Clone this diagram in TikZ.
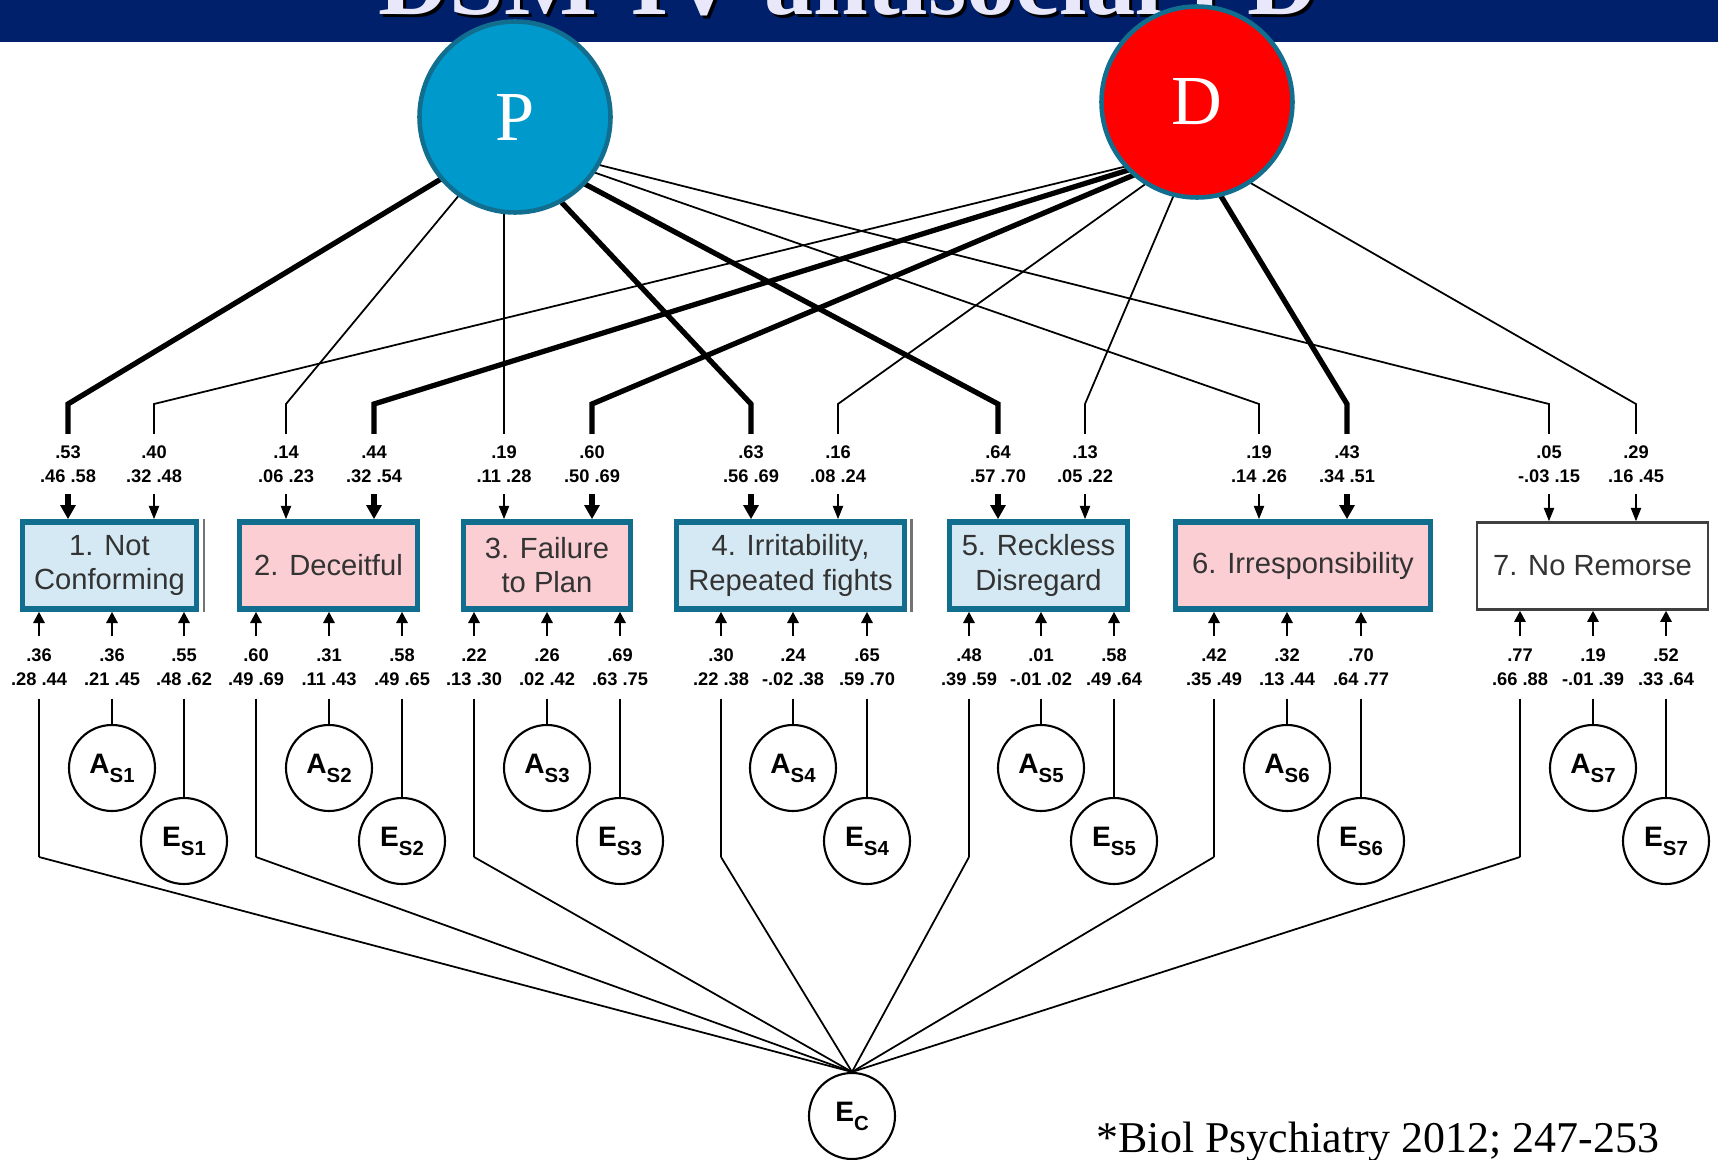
\documentclass[tikz,border=0pt]{standalone}
\usepackage{fontspec}
\setmainfont{Liberation Sans}
\newfontfamily\slidefont{Liberation Serif}
\usetikzlibrary{arrows.meta}

\definecolor{banner}{RGB}{0,32,108}
\definecolor{lavender}{RGB}{232,232,250}
\definecolor{edgeteal}{RGB}{18,110,142}
\definecolor{pblue}{RGB}{0,153,204}
\definecolor{dred}{RGB}{255,0,0}
\definecolor{boxblue}{RGB}{212,233,243}
\definecolor{boxpink}{RGB}{250,206,210}

\newcommand\sub[1]{\raisebox{-0.6ex}{\fontsize{5.8}{6}\selectfont #1}}

\begin{document}
\begin{tikzpicture}[x=0.1mm, y=-0.1mm,
    every node/.style={font=\small},
    headline/.style={anchor=base west, inner sep=0pt, font=\slidefont\bfseries\fontsize{28}{30}\selectfont},
    est/.style={align=center, inner sep=0pt, font=\fontsize{5.2}{6.8}\selectfont\bfseries},
    trait/.style={draw=edgeteal, line width=1.6pt, minimum height=8.7mm, align=center, text=black!80, font=\fontsize{8.3}{9.7}\selectfont},
    bluebox/.style={trait, fill=boxblue},
    pinkbox/.style={trait, fill=boxpink},
    plainbox/.style={trait, draw=black!75, line width=0.7pt, fill=white},
    latent/.style={circle, draw=edgeteal, line width=1.3pt, minimum size=19.1mm, inner sep=0pt, text=white, font=\slidefont\fontsize{20}{24}\selectfont},
    spec/.style={circle, draw, line width=0.6pt, minimum size=8.6mm, inner sep=0pt, font=\fontsize{8}{9}\selectfont\bfseries},
    heavy/.style={line width=1.5pt, >={Triangle[length=4pt,width=4.2pt]}},
    light/.style={line width=0.5pt, >={Triangle[length=3.8pt,width=2.9pt]}},
    uparr/.style={line width=0.7pt, ->, >={Triangle[length=3.2pt,width=3.2pt]}}]
    \useasboundingbox (0,0) rectangle (1718,1160);
    \clip (0,0) rectangle (1718,1160);
    \fill[banner] (0,0) rectangle (1718,42);
    \node[headline, text=black] (shadow) at (381,18) {DSM-IV antisocial PD};
    \node[headline, text=lavender] (title) at (378,15) {DSM-IV antisocial PD};
    \node[anchor=base west, inner sep=0pt, font=\slidefont\fontsize{12.5}{14}\selectfont] (cite) at (1096,1152) {*Biol Psychiatry 2012; 247-253};

    \node[bluebox, minimum width=16.6mm] (b1) at (109.5,565.5) {1. Not\\Conforming};
    \node[pinkbox, minimum width=17.8mm] (b2) at (328.5,565.5) {2. Deceitful};
    \node[pinkbox, minimum width=16.7mm] (b3) at (547,565.5) {3. Failure\\to Plan};
    \node[bluebox, minimum width=22.4mm] (b4) at (790.5,565.5) {4. Irritability,\\Repeated fights};
    \node[bluebox, minimum width=17.8mm] (b5) at (1038.5,565.5) {5. Reckless\\Disregard};
    \node[pinkbox, minimum width=25.5mm] (b6) at (1303,565.5) {6. Irresponsibility};
    \node[plainbox, minimum width=23.1mm] (b7) at (1592.5,566) {7. No Remorse};
    \draw[black!55, line width=0.8pt] ([xshift=0.45mm]b1.north east) -- ([xshift=0.45mm]b1.south east);
    \draw[black!55, line width=0.8pt] ([xshift=0.45mm]b4.north east) -- ([xshift=0.45mm]b4.south east);

    \node[spec] (EC) at (852,1116) {E\sub{C}};
    \foreach \b/\xa/\xm/\xe in {1/39/112/184, 2/256/329/402, 3/474/547/620, 4/721/793/867,
        5/969/1041/1114, 6/1214/1287/1361, 7/1520/1593/1666}
    {
        \node[spec] (A\b) at (\xm,768) {A\sub{S\b}};
        \node[spec] (E\b) at (\xe,841) {E\sub{S\b}};
        \coordinate (C\b) at (\xa,857);
        \draw[light] (C\b) -- (EC.north);
    }
    \foreach \b/\k/\est/\ci in {1/C/.36/.28 .44, 1/A/.36/.21 .45, 1/E/.55/.48 .62,
        2/C/.60/.49 .69, 2/A/.31/.11 .43, 2/E/.58/.49 .65,
        3/C/.22/.13 .30, 3/A/.26/.02 .42, 3/E/.69/.63 .75,
        4/C/.30/.22 .38, 4/A/.24/-.02 .38, 4/E/.65/.59 .70,
        5/C/.48/.39 .59, 5/A/.01/-.01 .02, 5/E/.58/.49 .64,
        6/C/.42/.35 .49, 6/A/.32/.13 .44, 6/E/.70/.64 .77,
        7/C/.77/.66 .88, 7/A/.19/-.01 .39, 7/E/.52/.33 .64}
    {
        \node[est, minimum height=6.1mm] (u\k\b) at (\k\b |- 0,667.5) {\est\\\ci};
        \draw[uparr] (u\k\b.north) -- (u\k\b.north |- b\b.south);
        \draw[light] (u\k\b.south) -- (\k\b);
    }

    \coordinate (hubP) at (504,141);
    \coordinate (hubD) at (1193,150);
    \foreach \b/\x/\src/\wt/\est/\ci in {1/68/P/heavy/.53/.46 .58, 1/154/D/light/.40/.32 .48,
        2/286/P/light/.14/.06 .23, 2/374/D/heavy/.44/.32 .54,
        3/504/P/light/.19/.11 .28, 3/592/D/heavy/.60/.50 .69,
        4/751/P/heavy/.63/.56 .69, 4/838/D/light/.16/.08 .24,
        5/998/P/heavy/.64/.57 .70, 5/1085/D/light/.13/.05 .22,
        6/1259/P/light/.19/.14 .26, 6/1347/D/heavy/.43/.34 .51,
        7/1549/P/light/.05/-.03 .15, 7/1636/D/light/.29/.16 .45}
    {
        \node[est, minimum height=5.9mm] (t\src\b) at (\x,464) {\est\\\ci};
        \draw[\wt] (hub\src) -- (\x,404) -- (t\src\b.north);
        \draw[\wt, ->] (t\src\b.south) -- (t\src\b.south |- b\b.north);
    }
    \node[latent, fill=pblue] (P) at (515,117) {P};
    \node[latent, fill=dred] (D) at (1197,102) {D};
\end{tikzpicture}
\end{document}
